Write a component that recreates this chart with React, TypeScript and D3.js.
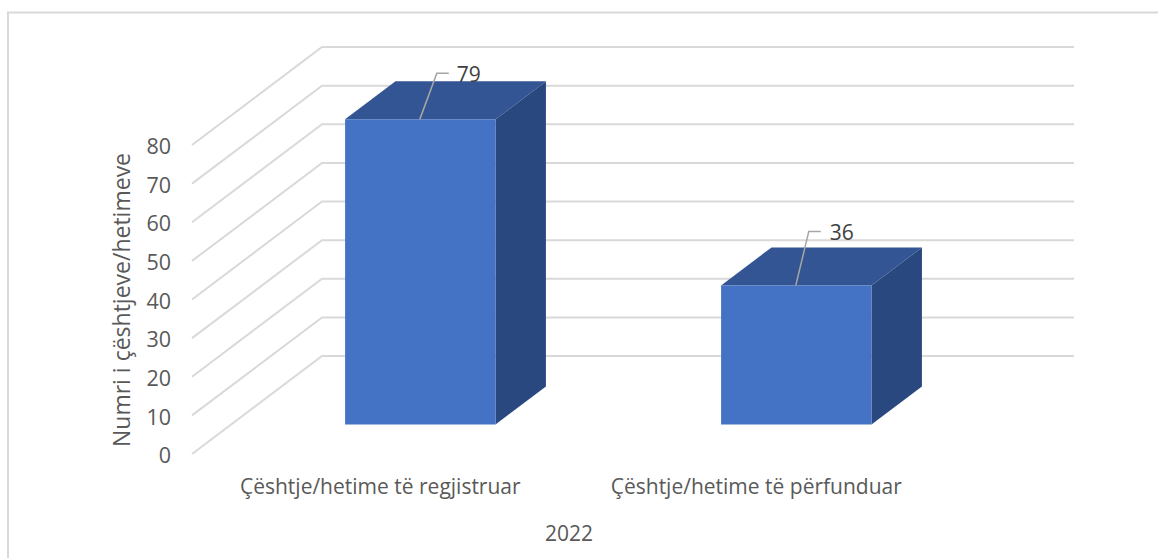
import * as d3 from 'd3';

const categories = ['Çështje/hetime të regjistruar', 'Çështje/hetime të përfunduar'];
const values = [79, 36];
const yTicks = [0, 10, 20, 30, 40, 50, 60, 70, 80];
const yTitle = 'Numri i çështjeve/hetimeve';
const xTitle = '2022';

const font = '"Open Sans", sans-serif';

// front plane of the 3D box, the back wall is this shifted by depth
const xScale = d3.scaleBand<string>().domain(categories).range([192, 944]).paddingInner(0.6).paddingOuter(0.3);
const yScale = d3.scaleLinear().domain([0, 80]).range([454, 145]);
const depthX = d3.scaleLinear().domain([0, 1]).range([0, 130]);
const depthY = d3.scaleLinear().domain([0, 1]).range([0, -98]);

const px = (x: number, z: number) => x + depthX(z);
const py = (v: number, z: number) => yScale(v) + depthY(z);

const zFront = 0.306;
const zBack = 0.694;

const poly = (pts: [number, number][]) => d3.line()(pts) + 'Z';

const App = () => {
    const [x0, x1] = xScale.range();

    return (
        <svg width={1158} height={558} style={{ position: 'absolute', left: 0, top: 0, background: '#fff' }}>
            <path d="M8,558V12.5H1158" fill="none" stroke="#d9d9d9" strokeWidth={2} />

            {yTicks.map((t) => (
                <g key={t}>
                    <path
                        d={d3.line()([[x0, py(t, 0)], [px(x0, 1), py(t, 1)], [px(x1, 1), py(t, 1)]]) ?? ''}
                        fill="none"
                        stroke="#d9d9d9"
                        strokeWidth={2}
                    />
                    <text x={171} y={py(t, 0) + 1.5} dy="0.36em" textAnchor="end" fontFamily={font} fontSize={21.5} fill="#595959">
                        {t}
                    </text>
                </g>
            ))}

            {categories.map((c, i) => {
                const a = xScale(c) as number;
                const b = a + xScale.bandwidth();
                const v = values[i];
                const midX = px((a + b) / 2, zFront) - 0.5;
                const topY = py(v, zFront);
                const labelY = topY - (i === 0 ? 46 : 54);
                return (
                    <g key={c} transform="translate(0.5,0.5)">
                        <path
                            d={poly([[px(a, zFront), py(v, zFront)], [px(a, zBack), py(v, zBack)], [px(b, zBack), py(v, zBack)], [px(b, zFront), py(v, zFront)]])}
                            fill="#335593"
                        />
                        <path
                            d={poly([[px(b, zFront), py(v, zFront)], [px(b, zBack), py(v, zBack)], [px(b, zBack), py(0, zBack)], [px(b, zFront), py(0, zFront)]])}
                            fill="#2a4880"
                        />
                        <path
                            d={poly([[px(a, zFront), py(v, zFront)], [px(b, zFront), py(v, zFront)], [px(b, zFront), py(0, zFront)], [px(a, zFront), py(0, zFront)]])}
                            fill="#4472c4"
                        />
                        <path
                            d={d3.line()([[midX, topY], [midX + (i === 0 ? 17 : 13), labelY], [midX + (i === 0 ? 29 : 25), labelY]]) ?? ''}
                            fill="none"
                            stroke="#a6a6a6"
                            strokeWidth={1.5}
                        />
                        <text x={midX + (i === 0 ? 37 : 34)} y={labelY + 1} dy="0.36em" fontFamily={font} fontSize={21} fill="#404040">
                            {v}
                        </text>
                        <text x={(a + b) / 2 + depthX(0.306) - 40} y={486} dy="0.36em" textAnchor="middle" fontFamily={font} fontSize={21} fill="#595959">
                            {c}
                        </text>
                    </g>
                );
            })}

            <text transform="translate(122,300) rotate(-90)" dy="0.36em" textAnchor="middle" fontFamily={font} fontSize={23} fill="#595959">
                {yTitle}
            </text>
            <text x={569} y={533} dy="0.36em" textAnchor="middle" fontFamily={font} fontSize={21} fill="#595959">
                {xTitle}
            </text>
        </svg>
    );
};

export default App;
